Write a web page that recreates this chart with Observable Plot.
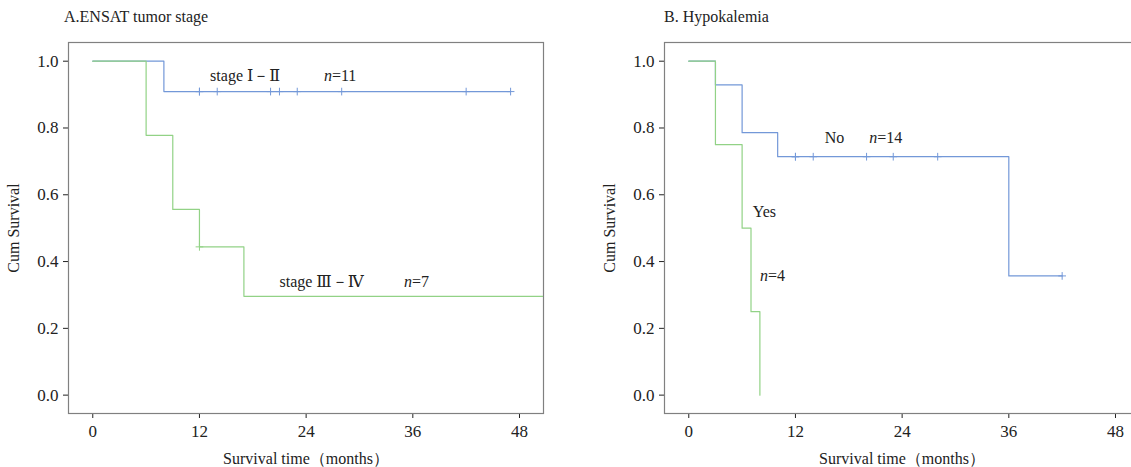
<!DOCTYPE html>
<html><head><meta charset="utf-8">
<script src="https://cdn.jsdelivr.net/npm/d3@7"></script>
<script src="https://cdn.jsdelivr.net/npm/@observablehq/plot@0.6"></script>
<style>
body{margin:0;background:#fff;}
#wrap{position:relative;width:1131px;height:467px;overflow:hidden;font-family:"Liberation Serif","DejaVu Serif",serif;}
.panel{position:absolute;top:0;height:467px;}
.panel svg{max-width:none !important;}
.panel svg g[aria-label$="tick label"]{font-size:17px;}
.title{position:absolute;top:8px;font-size:16px;line-height:18px;color:#222;white-space:nowrap;}
</style></head><body><div id="wrap"></div>
<script>
// ---- shared axis data ----
const xTicks = [0, 12, 24, 36, 48];
const yTicks = [0, 0.2, 0.4, 0.6, 0.8, 1.0];
const xDomain = [-2.73, 50.7];
const yDomain = [-0.055, 1.056];

// ---- Panel A: ENSAT tumor stage ----
const titleA = "A.ENSAT tumor stage";
const aEarlyTime = [0, 8, 47];
const aEarlySurv = [1, 0.909, 0.909];
const aEarlyCensorTime = [12, 12, 14, 20, 21, 23, 28, 42, 47];
const aEarlyCensorSurv = [0.909, 0.909, 0.909, 0.909, 0.909, 0.909, 0.909, 0.909, 0.909];
const aLateTime = [0, 6, 9, 12, 17, 52];
const aLateSurv = [1, 0.778, 0.556, 0.444, 0.296, 0.296];
const aLateCensorTime = [12];
const aLateCensorSurv = [0.444];
const aLabels = ["stage Ⅰ－Ⅱ", "stage Ⅲ－Ⅳ"];
const aLabelX = [13.2, 21.0];
const aLabelY = [0.957, 0.339];
const aN = ["=11", "=7"];
const aNX = [26.0, 35.0];
const aNY = [0.957, 0.339];

// ---- Panel B: Hypokalemia ----
const titleB = "B. Hypokalemia";
const bNoTime = [0, 3, 6, 10, 36, 42];
const bNoSurv = [1, 0.929, 0.786, 0.714, 0.357, 0.357];
const bNoCensorTime = [12, 12, 14, 20, 23, 28, 42];
const bNoCensorSurv = [0.714, 0.714, 0.714, 0.714, 0.714, 0.714, 0.357];
const bYesTime = [0, 3, 6, 7, 8];
const bYesSurv = [1, 0.75, 0.5, 0.25, 0];
const bYesCensorTime = [];
const bYesCensorSurv = [];
const bLabels = ["No", "Yes"];
const bLabelX = [15.3, 7.2];
const bLabelY = [0.771, 0.549];
const bN = ["=14", "=4"];
const bNX = [20.3, 8.0];
const bNY = [0.771, 0.356];

const BLUE = "#7398d8";
const GREEN = "#92d286";
const FONT = '"Liberation Serif","DejaVu Serif",serif';

function zip(t, s) { return t.map((d, i) => ({t: d, s: s[i]})); }

function panel({blueT, blueS, blueCT, blueCS, greenT, greenS, greenCT, greenCS, labels, lx, ly, ns, nx, ny, width, marginLeft, marginRight}) {
  const labelData = labels.map((d, i) => ({text: d, x: lx[i], y: ly[i]}));
  const nData = ns.map((d, i) => ({text: d, x: nx[i], y: ny[i]}));
  const svg = Plot.plot({
    width, height: 467,
    marginLeft, marginRight, marginTop: 42, marginBottom: 54,
    style: {fontFamily: FONT, fontSize: "16px", color: "#222", background: "transparent", maxWidth: "none"},
    x: {domain: xDomain, ticks: xTicks, tickSize: 5, tickPadding: 6, label: "Survival time（months）", labelAnchor: "center", labelArrow: "none", labelOffset: 50},
    y: {domain: yDomain, ticks: yTicks, tickFormat: ".1f", tickSize: 5, tickPadding: 5, label: "Cum Survival", labelAnchor: "center", labelArrow: "none", labelOffset: 61},
    marks: [
      Plot.frame({stroke: "#808080", strokeWidth: 1.2}),
      Plot.line(zip(blueT, blueS), {x: "t", y: "s", curve: "step-after", stroke: BLUE, strokeWidth: 1.2, clip: true}),
      Plot.dot(zip(blueCT, blueCS), {x: "t", y: "s", symbol: "plus", r: 2.6, stroke: BLUE, strokeWidth: 1}),
      Plot.line(zip(greenT, greenS), {x: "t", y: "s", curve: "step-after", stroke: GREEN, strokeWidth: 1.2, clip: true}),
      Plot.dot(zip(greenCT, greenCS), {x: "t", y: "s", symbol: "plus", r: 2.6, stroke: GREEN, strokeWidth: 1}),
      Plot.text(labelData, {x: "x", y: "y", text: "text", textAnchor: "start", fill: "#222", fontSize: 16}),
      Plot.text(nData, {x: "x", y: "y", text: () => "n", textAnchor: "start", fill: "#222", fontSize: 16, fontStyle: "italic"}),
      Plot.text(nData, {x: "x", y: "y", text: "text", textAnchor: "start", dx: 8, fill: "#222", fontSize: 16})
    ]
  });
  svg.style.maxWidth = "none";
  svg.setAttribute("width", width);
  return svg;
}

const wrap = document.getElementById("wrap");

const pA = document.createElement("div"); pA.className = "panel"; pA.style.left = "0px"; pA.style.width = "560px";
const tA = document.createElement("div"); tA.className = "title"; tA.style.left = "64px"; tA.textContent = titleA;
pA.appendChild(panel({blueT: aEarlyTime, blueS: aEarlySurv, blueCT: aEarlyCensorTime, blueCS: aEarlyCensorSurv,
  greenT: aLateTime, greenS: aLateSurv, greenCT: aLateCensorTime, greenCS: aLateCensorSurv,
  labels: aLabels, lx: aLabelX, ly: aLabelY, ns: aN, nx: aNX, ny: aNY, width: 560, marginLeft: 68, marginRight: 17}));
pA.appendChild(tA);
wrap.appendChild(pA);

const pB = document.createElement("div"); pB.className = "panel"; pB.style.left = "560px"; pB.style.width = "580px";
const tB = document.createElement("div"); tB.className = "title"; tB.style.left = "104px"; tB.textContent = titleB;
pB.appendChild(panel({blueT: bNoTime, blueS: bNoSurv, blueCT: bNoCensorTime, blueCS: bNoCensorSurv,
  greenT: bYesTime, greenS: bYesSurv, greenCT: bYesCensorTime, greenCS: bYesCensorSurv,
  labels: bLabels, lx: bLabelX, ly: bLabelY, ns: bN, nx: bNX, ny: bNY, width: 580, marginLeft: 104, marginRight: 1}));
pB.appendChild(tB);
wrap.appendChild(pB);
</script></body></html>
